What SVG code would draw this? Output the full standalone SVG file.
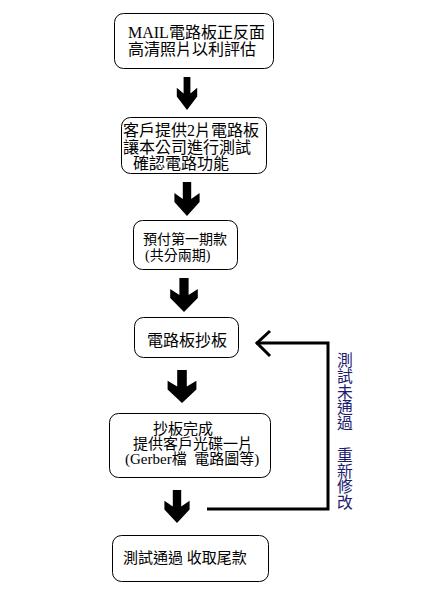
<svg xmlns="http://www.w3.org/2000/svg" width="431" height="591" viewBox="0 0 431 591">
<style>
.box{fill:#fff;stroke:#000;stroke-width:1}
.t{font-family:"Liberation Serif","Noto Sans CJK TC",serif;fill:#000}
.f16{font-size:16px}
.f15{font-size:15px}
.f14{font-size:14px}
.blk{fill:#000}
.fb{fill:none;stroke:#000;stroke-width:3}
.vt{font-family:"Noto Sans CJK TC",sans-serif;font-size:15.8px;fill:#1c1c70;writing-mode:vertical-rl}
</style>
<defs>
<path id="arr" d="M-4,0 L4,0 L4,17 L12,11 L12,20 L0,34 L-12,20 L-12,11 L-4,17 Z"/>
</defs>
<rect width="431" height="591" fill="#fff"/>
<g id="n1">
<rect class="box" x="114.5" y="13.5" width="159" height="55" rx="9"/>
<text class="t f16" x="128" y="38">MAIL電路板正反面</text>
<text class="t f16" x="128" y="55">高清照片以利評估</text>
</g>
<g id="n2">
<rect class="box" x="121.5" y="117.5" width="145" height="56" rx="9"/>
<text class="t f16" x="123" y="136">客戶提供2片電路板</text>
<text class="t f16" x="123" y="153">讓本公司進行測試</text>
<text class="t f16" x="133" y="169">確認電路功能</text>
</g>
<g id="n3">
<rect class="box" x="133.5" y="220.5" width="104" height="49" rx="9"/>
<text class="t f14" x="143" y="244">預付第一期款</text>
<text class="t f14" x="145" y="260">(共分兩期)</text>
</g>
<g id="n4">
<rect class="box" x="134.5" y="317.5" width="104" height="40" rx="9"/>
<text class="t f16" x="147" y="346">電路板抄板</text>
</g>
<g id="n5">
<rect class="box" x="109.5" y="413.5" width="161" height="64" rx="9"/>
<text class="t f15" x="153" y="434">抄板完成</text>
<text class="t f15" x="133" y="449">提供客戶光碟一片</text>
<text class="t f15" x="125" y="464">(Gerber檔&#160;&#160;電路圖等)</text>
</g>
<g id="n6">
<rect class="box" x="112.5" y="535.5" width="156" height="46" rx="9"/>
<text class="t f15" x="123" y="563">測試通過 收取尾款</text>
</g>
<g id="connectors">
<use href="#arr" class="blk" transform="translate(187,77) scale(0.85,0.97)"/>
<use href="#arr" class="blk" transform="translate(187,182) scale(1.05,1)"/>
<use href="#arr" class="blk" transform="translate(184,278) scale(1.15,1)"/>
<use href="#arr" class="blk" transform="translate(182,370) scale(1.2,0.97)"/>
<use href="#arr" class="blk" transform="translate(177,490) scale(1.05,0.97)"/>
<polyline class="fb" points="207,509 328,509 328,343 256,343"/>
<polyline class="fb" points="270,331 257,343 270,356"/>
</g>
<text class="vt" x="345" y="352">測試未通過　重新修改</text>
</svg>
